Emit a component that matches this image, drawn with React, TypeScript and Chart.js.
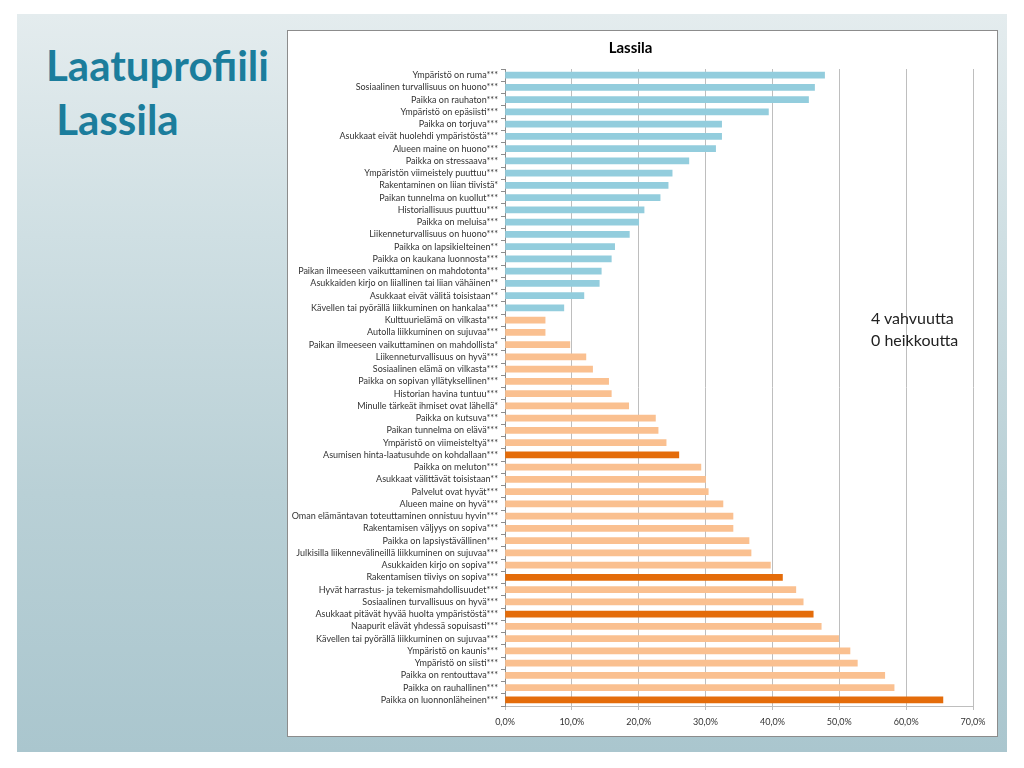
import React, { useEffect, useRef } from "react";
import { Chart, registerables } from "chart.js";

Chart.register(...registerables);

const categories: string[] = [
  "Ympäristö on ruma***",
  "Sosiaalinen turvallisuus on huono***",
  "Paikka on rauhaton***",
  "Ympäristö on epäsiisti***",
  "Paikka on torjuva***",
  "Asukkaat eivät huolehdi ympäristöstä***",
  "Alueen maine on huono***",
  "Paikka on stressaava***",
  "Ympäristön viimeistely puuttuu***",
  "Rakentaminen on liian tiivistä*",
  "Paikan tunnelma on kuollut***",
  "Historiallisuus puuttuu***",
  "Paikka on meluisa***",
  "Liikenneturvallisuus on huono***",
  "Paikka on lapsikielteinen**",
  "Paikka on kaukana luonnosta***",
  "Paikan ilmeeseen vaikuttaminen on mahdotonta***",
  "Asukkaiden kirjo on liiallinen tai liian vähäinen**",
  "Asukkaat eivät välitä toisistaan**",
  "Kävellen tai pyörällä liikkuminen on hankalaa***",
  "Kulttuurielämä on vilkasta***",
  "Autolla liikkuminen on sujuvaa***",
  "Paikan ilmeeseen vaikuttaminen on mahdollista*",
  "Liikenneturvallisuus on hyvä***",
  "Sosiaalinen elämä on vilkasta***",
  "Paikka on sopivan yllätyksellinen***",
  "Historian havina tuntuu***",
  "Minulle tärkeät ihmiset ovat lähellä*",
  "Paikka on kutsuva***",
  "Paikan tunnelma on elävä***",
  "Ympäristö on viimeisteltyä***",
  "Asumisen hinta-laatusuhde on kohdallaan***",
  "Paikka on meluton***",
  "Asukkaat välittävät toisistaan**",
  "Palvelut ovat hyvät***",
  "Alueen maine on hyvä***",
  "Oman elämäntavan toteuttaminen onnistuu hyvin***",
  "Rakentamisen väljyys on sopiva***",
  "Paikka on lapsiystävällinen***",
  "Julkisilla liikennevälineillä liikkuminen on sujuvaa***",
  "Asukkaiden kirjo on sopiva***",
  "Rakentamisen tiiviys on sopiva***",
  "Hyvät harrastus- ja tekemismahdollisuudet***",
  "Sosiaalinen turvallisuus on hyvä***",
  "Asukkaat pitävät hyvää huolta ympäristöstä***",
  "Naapurit elävät yhdessä sopuisasti***",
  "Kävellen tai pyörällä liikkuminen on sujuvaa***",
  "Ympäristö on kaunis***",
  "Ympäristö on siisti***",
  "Paikka on rentouttava***",
  "Paikka on rauhallinen***",
  "Paikka on luonnonläheinen***",
];

const values: number[] = [
  47.8, 46.3, 45.4, 39.4, 32.4, 32.4, 31.5, 27.5, 25.0, 24.4,
  23.2, 20.8, 20.0, 18.6, 16.4, 15.9, 14.4, 14.1, 11.8, 8.8,
  6.0, 6.0, 9.7, 12.1, 13.1, 15.5, 15.9, 18.5, 22.5, 22.9,
  24.1, 26.0, 29.3, 30.0, 30.4, 32.6, 34.1, 34.1, 36.5, 36.8,
  39.7, 41.5, 43.5, 44.6, 46.1, 47.3, 49.9, 51.6, 52.7, 56.8,
  58.2, 65.5,
];

// "neg" = weakness statement, "pos" = positive statement, "strength" = highlighted strength
const kinds: string[] = [
  ...Array(20).fill("neg"),
  "pos", "pos", "pos", "pos", "pos", "pos", "pos", "pos", "pos", "pos",
  "pos", "strength", "pos", "pos", "pos", "pos", "pos", "pos", "pos", "pos",
  "pos", "strength", "pos", "pos", "strength", "pos", "pos", "pos", "pos", "pos",
  "pos", "strength",
];

const xTicks: number[] = [0, 10, 20, 30, 40, 50, 60, 70];

const colorFor: Record<string, string> = {
  neg: "#93CDDD",
  pos: "#FAC090",
  strength: "#E46C0A",
};

const LABEL_FONT = "Lato, 'Open Sans', sans-serif";

export default function App() {
  const canvasRef = useRef<HTMLCanvasElement | null>(null);

  useEffect(() => {
    if (!canvasRef.current) return;
    const chart = new Chart(canvasRef.current, {
      type: "bar",
      data: {
        labels: categories,
        datasets: [
          {
            data: values,
            backgroundColor: kinds.map((k) => colorFor[k]),
            borderWidth: 0,
            barThickness: 6,
          },
        ],
      },
      options: {
        indexAxis: "y",
        animation: false,
        responsive: false,
        maintainAspectRatio: false,
        layout: { padding: { left: 0, right: 24, top: 0, bottom: 0 } },
        plugins: {
          legend: { display: false },
          tooltip: { enabled: false },
          title: {
            display: true,
            text: "Lassila",
            color: "#000",
            font: { family: LABEL_FONT, size: 15, weight: "bold" },
            padding: { top: 8, bottom: 12 },
          },
        },
        scales: {
          x: {
            min: 0,
            max: 70,
            afterBuildTicks: (scale: any) => {
              scale.ticks = xTicks.map((v) => ({ value: v }));
            },
            afterFit: (scale: any) => {
              scale.height = 30;
            },
            ticks: {
              color: "#333",
              font: { family: LABEL_FONT, size: 9 },
              padding: 7,
              callback: (v: any) => Number(v).toFixed(1).replace(".", ",") + "%",
            },
            grid: {
              color: "#BEBEBE",
              lineWidth: 1,
              tickLength: 4,
            },
            border: { display: true, color: "#BEBEBE" },
          },
          y: {
            afterFit: (scale: any) => {
              scale.width = 217;
            },
            ticks: {
              color: "#333",
              font: { family: LABEL_FONT, size: 9 },
              padding: 3,
              autoSkip: false,
            },
            grid: {
              display: true,
              drawOnChartArea: false,
              tickLength: 4,
              color: "#8C8C8C",
            },
            border: { display: true, color: "#8C8C8C" },
          },
        },
      },
    });
    return () => chart.destroy();
  }, []);

  return (
    <div
      style={{
        position: "absolute",
        left: 0,
        top: 0,
        width: 1024,
        height: 768,
        background: "#FFFFFF",
        overflow: "hidden",
      }}
    >
      <div
        style={{
          position: "absolute",
          left: 17,
          top: 14,
          width: 990,
          height: 738,
          background:
            "linear-gradient(to bottom, #E4ECEE 0%, #CFDFE3 30%, #B9D0D6 65%, #AAC6CE 100%)",
        }}
      />
      <div
        style={{
          position: "absolute",
          left: 46,
          top: 38,
          fontFamily: "Lato, 'Open Sans', sans-serif",
          fontWeight: 700,
          fontSize: 42,
          lineHeight: "54px",
          color: "#1B7D9C",
          whiteSpace: "pre",
        }}
      >
        {"Laatuprofiili\n Lassila"}
      </div>
      <div
        style={{
          position: "absolute",
          left: 287,
          top: 30,
          width: 711,
          height: 707,
          background: "#FFFFFF",
          boxSizing: "border-box",
          border: "1px solid #8C8C8C",
        }}
      >
        <canvas
          ref={canvasRef}
          width={709}
          height={705}
          style={{ position: "absolute", left: 0, top: 0, width: 709, height: 705 }}
        />
        <div
          style={{
            position: "absolute",
            left: 583,
            top: 276,
            fontFamily: "Lato, 'Open Sans', sans-serif",
            fontSize: 16,
            lineHeight: "22px",
            color: "#222",
            whiteSpace: "pre",
          }}
        >
          {"4 vahvuutta\n0 heikkoutta"}
        </div>
      </div>
    </div>
  );
}
